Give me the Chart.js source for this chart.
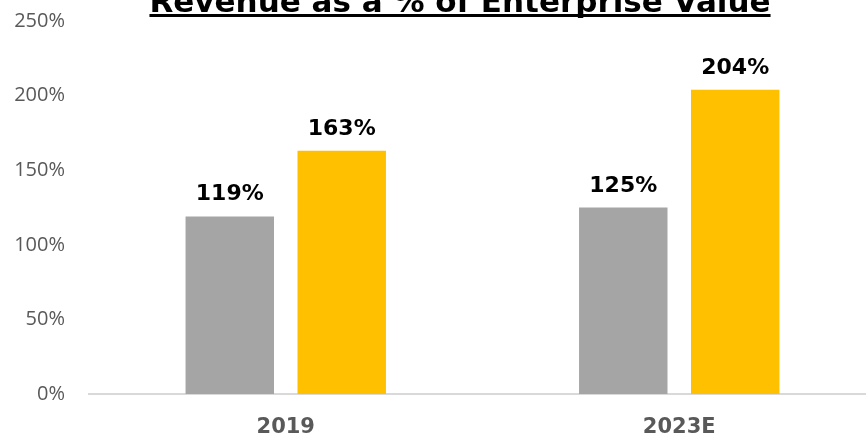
<!DOCTYPE html>
<html>
<head>
<meta charset="utf-8">
<script src="https://cdn.jsdelivr.net/npm/chart.js@4"></script>
<style>
  html, body { margin: 0; padding: 0; background: #ffffff; overflow: hidden; }
  #wrap { position: relative; width: 880px; height: 436px; }
</style>
</head>
<body>
<div id="wrap"><canvas id="chart"></canvas></div>
<script>
// Revenue as a share of enterprise value, by year
const categories = ['2019', '2023E'];
const seriesA = [119, 125];
const seriesB = [163, 204];
const yTicks = [0, 50, 100, 150, 200, 250];
const titleText = 'Revenue as a % of Enterprise Value';

const GRAY = '#A5A5A5';
const GOLD = '#FFC000';
const TEXT_GRAY = '#595959';

// Underlined bold heading
const headingPlugin = {
  id: 'heading',
  afterDraw(chart) {
    const ctx = chart.ctx;
    ctx.save();
    ctx.font = 'bold 31px "DejaVu Sans"';
    ctx.fillStyle = '#000000';
    ctx.textAlign = 'center';
    ctx.textBaseline = 'alphabetic';
    const cx = 460, by = 12;
    ctx.fillText(titleText, cx, by);
    const w = ctx.measureText(titleText).width;
    ctx.fillRect(cx - w / 2, by + 2, w, 3);
    ctx.restore();
  }
};

// Value labels above each bar
const valueLabels = {
  id: 'valueLabels',
  afterDatasetsDraw(chart) {
    const ctx = chart.ctx;
    ctx.save();
    ctx.font = 'bold 22px "DejaVu Sans"';
    ctx.fillStyle = '#000000';
    ctx.textAlign = 'center';
    ctx.textBaseline = 'alphabetic';
    chart.data.datasets.forEach((ds, i) => {
      const meta = chart.getDatasetMeta(i);
      meta.data.forEach((bar, j) => {
        ctx.fillText(ds.data[j] + '%', bar.x, bar.y - 16);
      });
    });
    ctx.restore();
  }
};

new Chart(document.getElementById('chart'), {
  type: 'bar',
  data: {
    labels: categories,
    datasets: [
      { label: 'A', data: seriesA, backgroundColor: GRAY, borderWidth: 0 },
      { label: 'B', data: seriesB, backgroundColor: GOLD, borderWidth: 0 }
    ]
  },
  options: {
    responsive: true,
    maintainAspectRatio: false,
    animation: false,
    devicePixelRatio: 1,
    layout: { padding: { top: 21, right: 4, bottom: 0, left: 0 } },
    datasets: {
      bar: { categoryPercentage: 0.569, barPercentage: 0.79 }
    },
    plugins: {
      legend: { display: false },
      title: { display: false },
      tooltip: { enabled: false }
    },
    scales: {
      x: {
        grid: { display: false, drawTicks: false },
        border: { display: true, color: '#D9D9D9', width: 2 },
        ticks: {
          color: TEXT_GRAY,
          font: { family: '"DejaVu Sans"', size: 21, weight: 'bold' },
          padding: 21
        },
        afterFit(scale) { scale.height = 42; }
      },
      y: {
        min: yTicks[0],
        max: yTicks[yTicks.length - 1],
        grid: { display: false, drawTicks: false },
        border: { display: false },
        afterBuildTicks(scale) { scale.ticks = yTicks.map(v => ({ value: v })); },
        ticks: {
          color: TEXT_GRAY,
          font: { family: '"Open Sans"', size: 20 },
          padding: 24,
          callback: v => v + '%'
        },
        afterFit(scale) {
          scale.width = 89;
          scale.paddingTop = 0;
          scale.paddingBottom = 0;
        }
      }
    }
  },
  plugins: [headingPlugin, valueLabels]
});
</script>
</body>
</html>
